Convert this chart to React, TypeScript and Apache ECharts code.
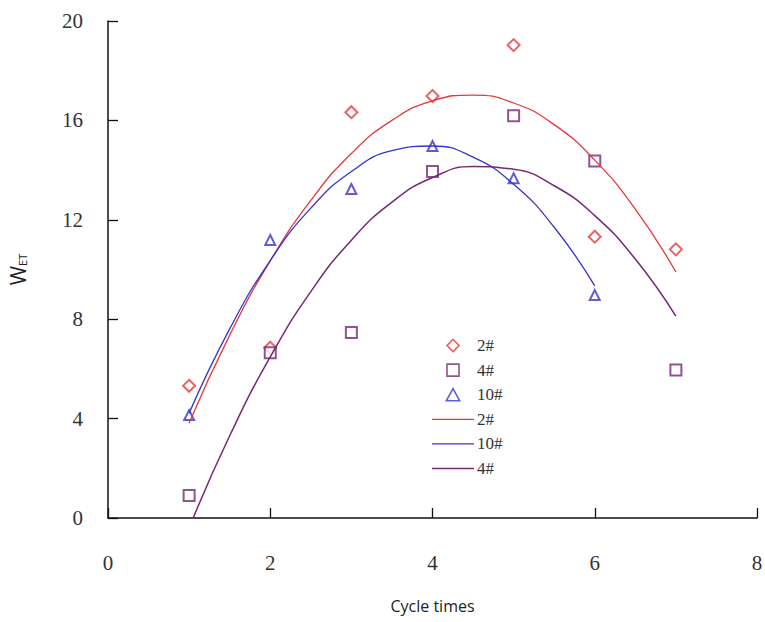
import React, { useEffect, useRef } from "react";
import * as echarts from "echarts";

const cycles = [1, 2, 3, 4, 5, 6, 7];
const cycles10 = [1, 2, 3, 4, 5, 6];
const w2 = [5.32, 6.85, 16.33, 16.98, 19.03, 11.32, 10.81];
const w4 = [0.91, 6.65, 7.46, 13.94, 16.19, 14.37, 5.96];
const w10 = [4.14, 11.19, 13.24, 14.97, 13.67, 8.97];

const fitX2 = [1, 1.5, 2, 2.5, 3, 3.5, 4, 4.5, 5, 5.5, 6, 6.5, 7];
const fit2 = [3.82, 7.36, 10.35, 12.78, 14.67, 16.0, 16.79, 17.02, 16.7, 15.83, 14.4, 12.43, 9.9];
const fitX10 = [1, 1.5, 2, 2.5, 3, 3.5, 4, 4.5, 5, 5.5, 6];
const fit10 = [4.22, 7.61, 10.36, 12.47, 13.94, 14.78, 14.97, 14.52, 13.43, 11.7, 9.34];
const fitX4 = [1.05, 1.5, 2, 2.5, 3, 3.5, 4, 4.5, 5, 5.5, 6, 6.5, 7];
const fit4 = [0, 3.31, 6.48, 9.11, 11.18, 12.71, 13.7, 14.14, 14.03, 13.37, 12.17, 10.42, 8.12];

const xTicks = [0, 2, 4, 6, 8];
const yTicks = [0, 4, 8, 12, 16, 20];

const RED = "#e8383c";
const BLUE = "#3434d0";
const PURPLE = "#742a74";

const zip = (xs: number[], ys: number[]) => xs.map((x, i) => [x, ys[i]]);

const ICON_DIAMOND = "path://M6,0L12,6L6,12L0,6Z";
const ICON_SQUARE = "path://M0,0L11,0L11,11L0,11Z";
const ICON_TRIANGLE = "path://M5,0L10,9L0,9Z";
const ICON_LINE = "path://M0,0L42,0L42,1.3L0,1.3Z";

export default function App() {
  const ref = useRef<HTMLDivElement>(null);
  useEffect(() => {
    if (!ref.current) return;
    const chart = echarts.init(ref.current, undefined, { renderer: "svg" });
    const serif = "'Liberation Serif', 'DejaVu Serif', serif";
    const sans = "'Open Sans', 'Noto Sans', sans-serif";
    chart.setOption({
      animation: false,
      backgroundColor: "#ffffff",
      grid: {
        left: 108,
        top: 21,
        width: 649,
        height: 497,
        containLabel: false,
        outerBoundsMode: "none",
      },
      xAxis: {
        type: "value",
        min: xTicks[0],
        max: xTicks[xTicks.length - 1],
        interval: 2,
        name: "Cycle times",
        nameLocation: "middle",
        nameGap: 80,
        nameTextStyle: { fontFamily: sans, fontSize: 16, color: "#222" },
        axisLine: { lineStyle: { color: "#111", width: 1.5 } },
        axisTick: { inside: true, length: 10, lineStyle: { color: "#111", width: 1.3 } },
        axisLabel: { margin: 34, fontFamily: serif, fontSize: 21, color: "#333" },
        splitLine: { show: false },
      },
      yAxis: {
        type: "value",
        min: yTicks[0],
        max: yTicks[yTicks.length - 1],
        interval: 4,
        name: "{w|W}{s|ET}",
        nameLocation: "middle",
        nameGap: 80,
        nameRotate: 90,
        nameTextStyle: {
          rich: {
            w: { fontFamily: sans, fontSize: 21, color: "#222" },
            s: {
              fontFamily: sans,
              fontSize: 11,
              color: "#222",
              verticalAlign: "bottom",
              padding: [8, 0, 0, 0],
            },
          },
        },
        axisLine: { show: true, lineStyle: { color: "#111", width: 1.5 } },
        axisTick: { show: true, inside: true, length: 10, lineStyle: { color: "#111", width: 1.3 } },
        axisLabel: { margin: 25, fontFamily: serif, fontSize: 21, color: "#333" },
        splitLine: { show: false },
      },
      legend: {
        orient: "vertical",
        left: 427,
        top: 332,
        itemWidth: 42,
        itemHeight: 12,
        itemGap: 7.6,
        symbolKeepAspect: true,
        textStyle: { fontFamily: serif, fontSize: 17, color: "#333", padding: [0, 0, 0, -2] },
        formatter: (n: string) => n.trim(),
        data: [
          { name: "2#", icon: ICON_DIAMOND, itemStyle: { color: "#fff", borderColor: RED, borderWidth: 1.6 } },
          { name: "4#", icon: ICON_SQUARE, itemStyle: { color: "#fff", borderColor: PURPLE, borderWidth: 1.6 } },
          { name: "10#", icon: ICON_TRIANGLE, itemStyle: { color: "#fff", borderColor: BLUE, borderWidth: 1.6 } },
          { name: "2# ", icon: ICON_LINE, itemStyle: { color: RED, borderWidth: 0 } },
          { name: "10# ", icon: ICON_LINE, itemStyle: { color: BLUE, borderWidth: 0 } },
          { name: "4# ", icon: ICON_LINE, itemStyle: { color: PURPLE, borderWidth: 0 } },
        ],
      },
      series: [
        {
          name: "2#",
          type: "scatter",
          symbol: "emptyDiamond",
          symbolSize: 12,
          itemStyle: { color: RED, borderWidth: 1.6 },
          data: zip(cycles, w2),
        },
        {
          name: "4#",
          type: "scatter",
          symbol: "emptyRect",
          symbolSize: 11,
          itemStyle: { color: PURPLE, borderWidth: 1.6 },
          data: zip(cycles, w4),
        },
        {
          name: "10#",
          type: "scatter",
          symbol: "emptyTriangle",
          symbolSize: 10,
          itemStyle: { color: BLUE, borderWidth: 1.6 },
          data: zip(cycles10, w10),
        },
        {
          name: "2# ",
          type: "line",
          smooth: true,
          symbol: "none",
          showSymbol: false,
          lineStyle: { color: RED, width: 1.3 },
          itemStyle: { color: RED },
          data: zip(fitX2, fit2),
        },
        {
          name: "10# ",
          type: "line",
          smooth: true,
          symbol: "none",
          showSymbol: false,
          lineStyle: { color: BLUE, width: 1.3 },
          itemStyle: { color: BLUE },
          data: zip(fitX10, fit10),
        },
        {
          name: "4# ",
          type: "line",
          smooth: true,
          symbol: "none",
          showSymbol: false,
          lineStyle: { color: PURPLE, width: 1.5 },
          itemStyle: { color: PURPLE },
          data: zip(fitX4, fit4),
        },
      ],
    });
    return () => chart.dispose();
  }, []);
  return (
    <div
      ref={ref}
      style={{ position: "fixed", left: 0, top: 0, width: 765, height: 622 }}
    />
  );
}
